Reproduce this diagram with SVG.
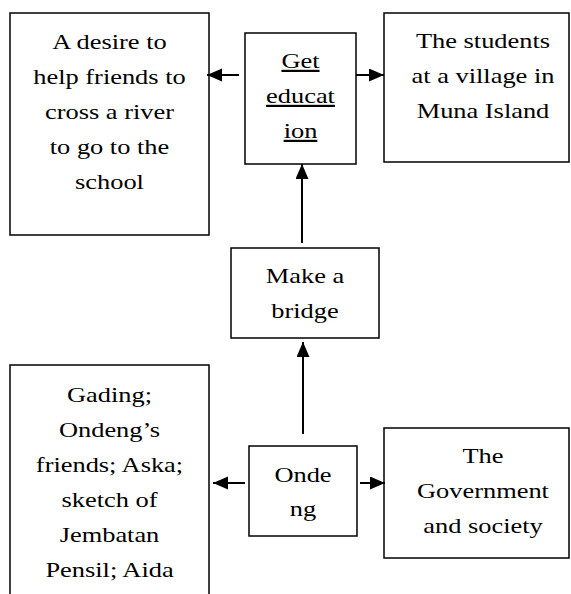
<svg xmlns="http://www.w3.org/2000/svg" width="571" height="594" viewBox="0 0 571 594">
<style>
.box{fill:#fff;stroke:#000;stroke-width:1.5}
text{font-family:'Liberation Serif','Tinos','DejaVu Serif',serif;font-size:22px;fill:#000;text-anchor:middle}
.u{text-decoration:underline}
.c{stroke:#000;stroke-width:2;fill:none}
</style>
<defs>
<marker id="ah" markerUnits="userSpaceOnUse" markerWidth="16" markerHeight="14" refX="15" refY="6.5" orient="auto">
<path d="M0,0 L15,6.5 L0,13 z" fill="#000"/>
</marker>
</defs>
<rect width="571" height="594" fill="#fff"/>
<g id="desire">
<rect class="box" x="10" y="13" width="199" height="222"/>
<g transform="translate(109.5,0) scale(1.2,1)" font-family="Liberation Serif, serif">
<text x="0" y="49">A desire to</text>
<text x="0" y="84">help friends to</text>
<text x="0" y="119">cross a river</text>
<text x="0" y="154">to go to the</text>
<text x="0" y="189">school</text>
</g>
</g>
<g id="education">
<rect class="box" x="245" y="33" width="111" height="131"/>
<g transform="translate(300.5,0) scale(1.2,1)">
<text class="u" x="0" y="68">Get</text>
<text class="u" x="0" y="103">educat</text>
<text class="u" x="0" y="138">ion</text>
</g>
</g>
<g id="students">
<rect class="box" x="384" y="13" width="185" height="149"/>
<g transform="translate(483,0) scale(1.2,1)">
<text x="0" y="48">The students</text>
<text x="0" y="83">at a village in</text>
<text x="0" y="118">Muna Island</text>
</g>
</g>
<g id="bridge">
<rect class="box" x="231" y="248" width="148" height="90"/>
<g transform="translate(305,0) scale(1.2,1)">
<text x="0" y="283">Make a</text>
<text x="0" y="318">bridge</text>
</g>
</g>
<g id="gading">
<rect class="box" x="10" y="365" width="199" height="240"/>
<g transform="translate(109.5,0) scale(1.2,1)">
<text x="0" y="402">Gading;</text>
<text x="0" y="437">Ondeng’s</text>
<text x="0" y="472">friends; Aska;</text>
<text x="0" y="507">sketch of</text>
<text x="0" y="542">Jembatan</text>
<text x="0" y="577">Pensil; Aida</text>
</g>
</g>
<g id="ondeng">
<rect class="box" x="249" y="446" width="108" height="90"/>
<g transform="translate(303,0) scale(1.2,1)">
<text x="0" y="482">Onde</text>
<text x="0" y="516">ng</text>
</g>
</g>
<g id="government">
<rect class="box" x="384" y="428" width="185" height="130"/>
<g transform="translate(483,0) scale(1.2,1)">
<text x="0" y="463">The</text>
<text x="0" y="498">Government</text>
<text x="0" y="533">and society</text>
</g>
</g>
<g id="connectors">
<line class="c" x1="239" y1="75" x2="207" y2="75" marker-end="url(#ah)"/>
<line class="c" x1="356" y1="75" x2="384" y2="75" marker-end="url(#ah)"/>
<line class="c" x1="302" y1="243" x2="302" y2="164" marker-end="url(#ah)"/>
<line class="c" x1="303" y1="434" x2="303" y2="342" marker-end="url(#ah)"/>
<line class="c" x1="245" y1="483" x2="213" y2="483" marker-end="url(#ah)"/>
<line class="c" x1="360" y1="483" x2="385" y2="483" marker-end="url(#ah)"/>
</g>
</svg>
